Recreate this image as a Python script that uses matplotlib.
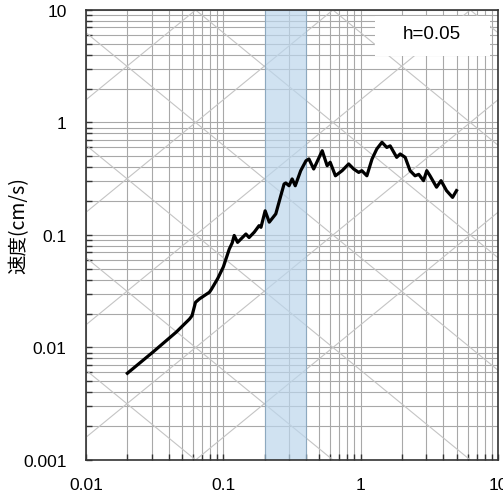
import numpy as np
import matplotlib.pyplot as plt
from matplotlib.patches import Rectangle

plt.rcParams['font.family'] = ['Liberation Sans', 'Noto Sans CJK JP', 'DejaVu Sans']

# Velocity response spectrum (h=0.05)
period = [0.02, 0.0307, 0.0454, 0.0567, 0.0592, 0.0627, 0.0669, 0.0792, 0.082,
          0.091, 0.1, 0.1105, 0.116, 0.12, 0.127, 0.146, 0.154, 0.168, 0.182,
          0.188, 0.2016, 0.216, 0.241, 0.262, 0.277, 0.285, 0.301, 0.317, 0.334,
          0.366, 0.40, 0.42, 0.455, 0.525, 0.57, 0.60, 0.655, 0.733, 0.818,
          0.89, 0.968, 1.02, 1.11, 1.21, 1.31, 1.43, 1.55, 1.64, 1.83, 1.94,
          2.11, 2.29, 2.49, 2.65, 2.87, 3.03, 3.2, 3.57, 3.85, 4.22, 4.67, 4.99]
velocity = [0.0059, 0.0091, 0.0137, 0.0179, 0.0192, 0.0252, 0.027, 0.031, 0.033,
            0.041, 0.052, 0.075, 0.085, 0.099, 0.086, 0.102, 0.095, 0.106, 0.121,
            0.117, 0.164, 0.13, 0.154, 0.223, 0.284, 0.29, 0.274, 0.315, 0.274,
            0.373, 0.457, 0.474, 0.386, 0.561, 0.413, 0.443, 0.336, 0.373, 0.428,
            0.386, 0.36, 0.373, 0.336, 0.473, 0.581, 0.667, 0.6, 0.62, 0.49, 0.525,
            0.49, 0.373, 0.336, 0.346, 0.304, 0.373, 0.336, 0.266, 0.304, 0.248,
            0.216, 0.248]

band = (0.2, 0.4)
disp_lines = [10.0 ** k for k in range(-6, 3)]   # cm
acc_lines = [10.0 ** k for k in range(-1, 6)]    # cm/s2
x_ticks = [0.01, 0.1, 1, 10]
x_labels = ['0.01', '0.1', '1', '10']
y_ticks = [0.001, 0.01, 0.1, 1, 10]
y_labels = ['0.001', '0.01', '0.1', '1', '10']

fig = plt.figure(figsize=(5.03, 5.02), dpi=100)
ax = fig.add_axes([0.171, 0.0817, 0.819, 0.8964])
ax.set_xscale('log')
ax.set_yscale('log')
ax.set_xlim(0.01, 10)
ax.set_ylim(0.001, 10)

# grid
ax.grid(True, which='both', color='#a8a8a8', linewidth=0.8, zorder=1)
ax.set_axisbelow(True)

# tripartite diagonals
T = np.logspace(-2, 1, 50)
for d in disp_lines:
    ax.plot(T, 2 * np.pi * d / T, color='#c4c4c4', lw=0.8, zorder=1.5)
for a in acc_lines:
    ax.plot(T, a * T / (2 * np.pi), color='#c4c4c4', lw=0.8, zorder=1.5)

ax.axvspan(band[0], band[1], facecolor='#bcd6ec', edgecolor='#7fa3c0',
           lw=0.8, alpha=0.7, zorder=2)

ax.plot(period, velocity, color='black', lw=2.3, zorder=4)

# h label box
ax.add_patch(Rectangle((0.701, 0.898), 0.279, 0.089, transform=ax.transAxes,
                       facecolor='white', edgecolor='none', zorder=5))
ax.text(0.84, 0.947, 'h=0.05', transform=ax.transAxes, ha='center', va='center',
        fontsize=13.5, zorder=6)

ax.set_xticks(x_ticks)
ax.set_xticklabels(x_labels)
ax.set_yticks(y_ticks)
ax.set_yticklabels(y_labels)
ax.tick_params(which='both', direction='in', length=4, width=1, color='#333333',
               labelsize=12.5)
ax.tick_params(axis='x', pad=12)
ax.tick_params(axis='y', pad=14)
for s in ax.spines.values():
    s.set_color('#333333')
    s.set_linewidth(1.2)

ax.set_ylabel('速度(cm/s)', fontsize=14, family=['Noto Sans CJK JP', 'DejaVu Sans'])
ax.yaxis.set_label_coords(-0.138, 0.524)

fig.savefig('out.png', dpi=100)
